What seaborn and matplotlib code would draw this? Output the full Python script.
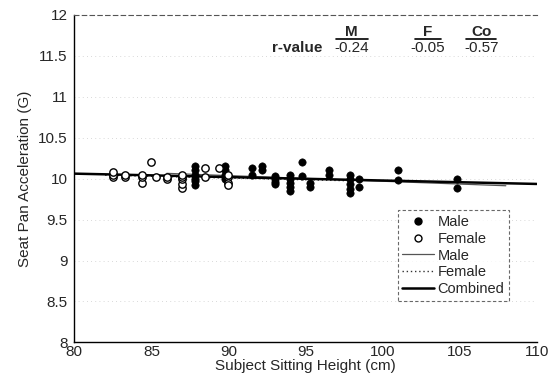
import numpy as np
import pandas as pd
import seaborn as sns
import matplotlib.pyplot as plt
from matplotlib.lines import Line2D

# values
male_height = [87.8, 87.8, 87.8, 87.8, 87.8, 87.8,
               89.8, 89.8, 89.8, 89.8,
               91.5, 91.5, 92.2, 92.2,
               93.0, 93.0, 93.0, 93.0,
               94.0, 94.0, 94.0, 94.0, 94.0,
               94.8, 94.8, 95.3, 95.3,
               96.5, 96.5,
               97.9, 97.9, 97.9, 97.9, 97.9,
               98.5, 98.5, 101.0, 101.0, 104.8, 104.8]
male_accel = [9.92, 9.97, 10.0, 10.05, 10.1, 10.15,
              10.0, 10.05, 10.1, 10.15,
              10.05, 10.13, 10.1, 10.15,
              9.93, 9.96, 10.0, 10.03,
              9.85, 9.9, 9.95, 10.0, 10.05,
              10.2, 10.03, 9.9, 9.95,
              10.05, 10.1,
              9.82, 9.87, 9.93, 10.0, 10.05,
              9.9, 10.0, 10.1, 9.98, 10.0, 9.88]

female_height = [82.5, 82.5, 82.5, 83.3, 83.3,
                 84.4, 84.4, 84.4, 85.0, 85.3,
                 86.0, 86.0,
                 87.0, 87.0, 87.0, 87.0, 87.0,
                 88.5, 88.5, 89.4,
                 90.0, 90.0, 90.0, 90.0]
female_accel = [10.02, 10.05, 10.08, 10.02, 10.04,
                9.95, 10.02, 10.05, 10.2, 10.02,
                10.0, 10.02,
                9.88, 9.93, 10.0, 10.02, 10.05,
                10.02, 10.13, 10.13,
                10.02, 9.95, 9.92, 10.05]

male_fit_range = [86.0, 108.0]
female_fit_range = [82.0, 98.0]
combined_fit_range = [80.0, 110.0]

r_labels = ["M", "F", "Co"]
r_values = ["-0.24", "-0.05", "-0.57"]

df = pd.concat([
    pd.DataFrame({"height": male_height, "accel": male_accel, "sex": "Male"}),
    pd.DataFrame({"height": female_height, "accel": female_accel, "sex": "Female"}),
])

sns.set_theme(style="white")
plt.rcParams["font.family"] = ["Liberation Sans", "DejaVu Sans"]

fig = plt.figure(figsize=(5.59, 3.73), dpi=100)
ax = fig.add_axes([0.133, 0.082, 0.827, 0.878])

# faint dotted gridlines
for yv in np.arange(8.5, 12, 0.5):
    ax.axhline(yv, color="#cccccc", lw=0.6, ls=(0, (1, 4)), zorder=0)

sns.scatterplot(data=df[df.sex == "Male"], x="height", y="accel", ax=ax,
                color="black", edgecolor="black", s=28, marker="o",
                legend=False, zorder=3)
sns.scatterplot(data=df[df.sex == "Female"], x="height", y="accel", ax=ax,
                facecolor="white", edgecolor="black", linewidth=1.0, s=28,
                marker="o", legend=False, zorder=3)


def fit_line(x, y, rng):
    k, b = np.polyfit(x, y, 1)
    xs = np.array(rng)
    return xs, k * xs + b


xs, ys = fit_line(male_height, male_accel, male_fit_range)
ax.plot(xs, ys, color="#555555", lw=0.9, zorder=2)
xs, ys = fit_line(female_height, female_accel, female_fit_range)
ax.plot(xs, ys, color="#333333", lw=1.0, ls=(0, (1, 2)), zorder=2)
xs, ys = fit_line(male_height + female_height, male_accel + female_accel,
                  combined_fit_range)
ax.plot(xs, ys, color="black", lw=1.8, zorder=2)

ax.set_xlim(80, 110)
ax.set_ylim(8, 12)
ax.set_xticks(np.arange(80, 111, 5))
ax.set_yticks(np.arange(8, 12.01, 0.5))
ax.set_yticklabels([f"{v:g}" for v in np.arange(8, 12.01, 0.5)])
ax.tick_params(labelsize=11, length=0)
ax.tick_params(axis="x", pad=2)
ax.tick_params(axis="y", pad=5)
ax.set_xlabel("Subject Sitting Height (cm)", fontsize=11, labelpad=0)
ax.set_ylabel("Seat Pan Acceleration (G)", fontsize=11, labelpad=4)

for side in ["left", "bottom"]:
    ax.spines[side].set_color("black")
    ax.spines[side].set_linewidth(1.0)
ax.spines["right"].set_visible(False)
ax.spines["top"].set_color("#555555")
ax.spines["top"].set_linewidth(0.8)
ax.spines["top"].set_linestyle((0, (4, 3)))

# r-value table
ax.text(0.428, 0.90, "r-value", transform=ax.transAxes, fontsize=11,
        fontweight="bold", ha="left", va="center")
col_x = [0.60, 0.765, 0.88]
half_w = [0.035, 0.028, 0.032]
for cx, hw, lab, val in zip(col_x, half_w, r_labels, r_values):
    ax.text(cx, 0.948, lab, transform=ax.transAxes, fontsize=11,
            fontweight="bold", ha="center", va="center")
    ax.plot([cx - hw, cx + hw], [0.925, 0.925], transform=ax.transAxes,
            color="black", lw=1.2, clip_on=False)
    ax.text(cx, 0.90, val, transform=ax.transAxes, fontsize=11,
            ha="center", va="center")

handles = [
    Line2D([], [], marker="o", ls="none", color="black", markersize=5),
    Line2D([], [], marker="o", ls="none", markerfacecolor="white",
           markeredgecolor="black", markersize=5),
    Line2D([], [], color="#555555", lw=0.9),
    Line2D([], [], color="#333333", lw=1.0, ls=(0, (1, 2))),
    Line2D([], [], color="black", lw=1.8),
]
leg = ax.legend(handles, ["Male", "Female", "Male", "Female", "Combined"],
                loc="lower right", bbox_to_anchor=(0.955, 0.105), fontsize=10.5,
                frameon=True, fancybox=False, handlelength=2.2,
                handletextpad=0.2, labelspacing=0.2, borderpad=0.3)
leg.get_frame().set_edgecolor("#444444")
leg.get_frame().set_linestyle((0, (3, 2)))
leg.get_frame().set_linewidth(0.8)

fig.savefig("out.png", dpi=100)
